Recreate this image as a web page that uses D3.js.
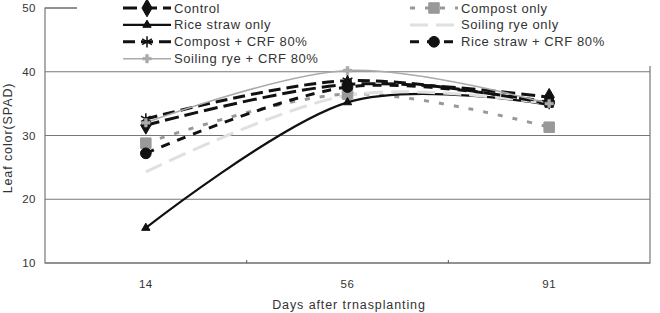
<!DOCTYPE html>
<html lang="en">
<head>
  <meta charset="UTF-8">
  <title>Leaf color (SPAD)</title>
  <script src="https://d3js.org/d3.v7.min.js"></script>
  <style>
    body { margin: 0; background: #fff; font-family: "Liberation Sans", Arial, sans-serif; }
    svg text { fill: #333; }
  </style>
</head>
<body>
  <div id="vis"></div>
  <script>
    const days = ["14", "56", "91"];
    const yTicks = [10, 20, 30, 40, 50];

    const control      = [31.6, 38.0, 36.0];
    const compostOnly  = [28.8, 36.5, 31.3];
    const riceOnly     = [15.5, 35.2, 34.8];
    const ryeOnly      = [24.3, 36.3, 35.0];
    const compostCrf   = [32.6, 38.6, 35.0];
    const riceCrf      = [27.2, 37.6, 35.2];
    const ryeCrf       = [32.0, 40.2, 35.0];

    const series = [
      { name: "Control", values: control, color: "#111", width: 3, dash: "14,6", marker: d3.symbolDiamond, msize: 90 },
      { name: "Compost only", values: compostOnly, color: "#999", width: 3, dash: "5,10", marker: d3.symbolSquare, msize: 110 },
      { name: "Rice straw only", values: riceOnly, color: "#111", width: 2.2, dash: null, marker: d3.symbolTriangle, msize: 30 },
      { name: "Soiling rye only", values: ryeOnly, color: "#e0e0e0", width: 3, dash: "18,8", marker: null, msize: 0 },
      { name: "Compost + CRF 80%", values: compostCrf, color: "#111", width: 3, dash: "12,6", marker: d3.symbolAsterisk, msize: 90 },
      { name: "Rice straw + CRF 80%", values: riceCrf, color: "#111", width: 3, dash: "9,8", marker: d3.symbolCircle, msize: 90 },
      { name: "Soiling rye + CRF 80%", values: ryeCrf, color: "#aaa", width: 1.5, dash: null, marker: d3.symbolCross, msize: 40 }
    ];

    const width = 660, height = 313;
    const margin = { left: 45, right: 10, top: 8, bottom: 50 };

    const svg = d3.select("#vis").append("svg")
      .attr("width", width)
      .attr("height", height);

    const x = d3.scaleBand().domain(days).range([margin.left, width - margin.right]);
    const y = d3.scaleLinear().domain([10, 50]).range([height - margin.bottom, margin.top]);

    // gridlines
    svg.selectAll("line.grid")
      .data(yTicks)
      .enter().append("line")
      .attr("class", "grid")
      .attr("x1", margin.left).attr("x2", width - margin.right)
      .attr("y1", d => y(d)).attr("y2", d => y(d))
      .attr("stroke", "#777").attr("stroke-width", 1.2);

    // frame
    svg.append("rect")
      .attr("x", margin.left).attr("y", y(50))
      .attr("width", width - margin.right - margin.left)
      .attr("height", y(10) - y(50))
      .attr("fill", "none").attr("stroke", "#777").attr("stroke-width", 1.2);

    // y axis labels
    svg.selectAll("text.ytick")
      .data(yTicks)
      .enter().append("text")
      .attr("class", "ytick")
      .attr("x", 36).attr("y", d => y(d) + 4)
      .attr("text-anchor", "end")
      .style("font-size", "11.5px")
      .style("letter-spacing", "0.5px")
      .text(d => d);

    // x axis ticks between categories
    svg.selectAll("line.xtick")
      .data(days.slice(1))
      .enter().append("line")
      .attr("class", "xtick")
      .attr("x1", d => x(d)).attr("x2", d => x(d))
      .attr("y1", y(10)).attr("y2", y(10) - 3)
      .attr("stroke", "#555");

    svg.selectAll("text.xtick")
      .data(days)
      .enter().append("text")
      .attr("class", "xtick")
      .attr("x", d => x(d) + x.bandwidth() / 2)
      .attr("y", y(10) + 25)
      .attr("text-anchor", "middle")
      .style("font-size", "11.5px")
      .style("letter-spacing", "0.5px")
      .text(d => d);

    svg.append("text")
      .attr("x", 349)
      .attr("y", 309)
      .attr("text-anchor", "middle")
      .style("font-size", "12.5px")
      .style("letter-spacing", "0.9px")
      .text("Days after trnasplanting");

    svg.append("text")
      .attr("transform", "translate(12," + 138 + ") rotate(-90)")
      .attr("text-anchor", "middle")
      .style("font-size", "12.5px")
      .style("letter-spacing", "0.9px")
      .text("Leaf color(SPAD)");

    const cx = d => x(d) + x.bandwidth() / 2;
    const line = d3.line()
      .x((v, i) => cx(days[i]))
      .y(v => y(v))
      .curve(d3.curveCatmullRom.alpha(0));

    const plot = svg.append("g");

    // legend background hides top of frame
    svg.append("rect")
      .attr("x", 77).attr("y", 0)
      .attr("width", width - 77).attr("height", 66)
      .attr("fill", "#fff");

    series.forEach(s => {
      plot.append("path")
        .attr("d", line(s.values))
        .attr("fill", "none")
        .attr("stroke", s.color)
        .attr("stroke-width", s.width)
        .attr("stroke-dasharray", s.dash);
    });

    function drawMarker(g, s, px, py) {
      if (!s.marker) return;
      const isLine = s.marker === d3.symbolAsterisk;
      g.append("path")
        .attr("transform", "translate(" + px + "," + py + ")")
        .attr("d", d3.symbol().type(s.marker).size(s.msize)())
        .attr("fill", isLine ? "none" : s.color)
        .attr("stroke", s.color)
        .attr("stroke-width", isLine ? 1.5 : (s.marker === d3.symbolCross ? 0.5 : 1));
    }

    series.forEach(s => {
      s.values.forEach((v, i) => drawMarker(plot, s, cx(days[i]), y(v)));
    });

    // legend
    const legend = svg.append("g");
    series.forEach((s, i) => {
      const col = i % 2, row = Math.floor(i / 2);
      const lx = col === 0 ? 123 : 410;
      const ly = 8 + row * 16.9;
      const g = legend.append("g");
      g.append("line")
        .attr("x1", lx).attr("x2", lx + 48)
        .attr("y1", ly).attr("y2", ly)
        .attr("stroke", s.color)
        .attr("stroke-width", s.width)
        .attr("stroke-dasharray", s.dash);
      drawMarker(g, s, lx + 24, ly);
      g.append("text")
        .attr("x", lx + 51).attr("y", ly + 4.5)
        .style("font-size", "13px")
        .style("letter-spacing", "0.6px")
        .text(s.name);
    });
  </script>
</body>
</html>
